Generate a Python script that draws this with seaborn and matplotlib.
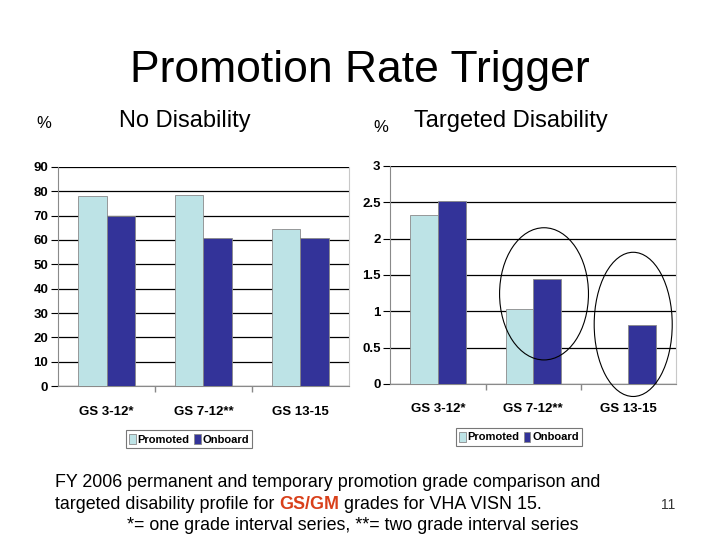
import pandas as pd
import matplotlib.pyplot as plt
import seaborn as sns
from matplotlib.patches import Ellipse

plt.switch_backend('Agg')
sns.set_theme(style="white")
plt.rcParams['font.family'] = ['Liberation Sans', 'DejaVu Sans']
plt.rcParams['text.color'] = 'black'
plt.rcParams['xtick.color'] = 'black'
plt.rcParams['ytick.color'] = 'black'

# data
grades = ['GS 3-12*', 'GS 7-12**', 'GS 13-15']
series = ['Promoted', 'Onboard']
no_dis_promoted = [78, 78.5, 64.5]
no_dis_onboard = [70, 61, 61]
tgt_dis_promoted = [2.33, 1.03, 0]
tgt_dis_onboard = [2.52, 1.44, 0.81]
no_dis_ticks = [0, 10, 20, 30, 40, 50, 60, 70, 80, 90]
tgt_dis_ticks = [0, 0.5, 1, 1.5, 2, 2.5, 3]
tgt_dis_ticklabels = ['0', '0.5', '1', '1.5', '2', '2.5', '3']

palette = {'Promoted': '#BDE3E6', 'Onboard': '#333399'}
narrow = ['Liberation Sans Narrow', 'Liberation Sans', 'DejaVu Sans']


def long_table(promoted, onboard):
    return pd.DataFrame({
        'grade': grades * 2,
        'series': [series[0]] * 3 + [series[1]] * 3,
        'value': promoted + onboard,
    })


def draw_panel(ax, df, ticks, ticklabels, ymax, legend_y):
    sns.barplot(data=df, x='grade', y='value', hue='series', order=grades,
                hue_order=series, palette=palette, width=0.58, saturation=1,
                edgecolor='#8a8a8a', linewidth=0.6, ax=ax, zorder=3)
    ax.set_ylim(0, ymax)
    ax.set_xlim(-0.5, 2.5)
    ax.set_yticks(ticks)
    ax.set_yticklabels(ticklabels, fontsize=9.5, fontweight='bold', family=narrow)
    ax.set_xticks([0, 1, 2])
    ax.set_xticklabels(grades, fontsize=9.5, fontweight='bold', family=narrow)
    ax.tick_params(axis='x', length=0, pad=14)
    ax.tick_params(axis='y', length=5, width=0.8, color='black', left=True, pad=2)
    # small ticks between the categories
    ax.set_xticks([0.5, 1.5], minor=True)
    ax.tick_params(axis='x', which='minor', length=4, color='#888888', bottom=True)
    ax.set_xlabel('')
    ax.set_ylabel('')
    ax.grid(axis='y', color='black', linewidth=0.9, zorder=0)
    ax.set_axisbelow(True)
    ax.spines['top'].set_visible(False)
    ax.spines['left'].set_color('#8a8a8a')
    ax.spines['bottom'].set_color('#8a8a8a')
    ax.spines['right'].set_color('#c8c8c8')
    for sp in ax.spines.values():
        sp.set_linewidth(0.8)
    leg = ax.legend(loc='center', bbox_to_anchor=(0.45, legend_y), ncol=2,
                    frameon=True, fancybox=False, handlelength=0.6,
                    handleheight=1.0, handletextpad=0.15, columnspacing=0.4,
                    borderpad=0.3, borderaxespad=0,
                    prop={'family': narrow, 'weight': 'bold', 'size': 8})
    leg.get_frame().set_edgecolor('#555555')
    leg.get_frame().set_linewidth(0.8)


fig = plt.figure(figsize=(7.2, 5.4), dpi=100)
ax1 = fig.add_axes([0.0806, 0.285, 0.404, 0.406])
ax2 = fig.add_axes([0.542, 0.289, 0.397, 0.404])

draw_panel(ax1, long_table(no_dis_promoted, no_dis_onboard),
           no_dis_ticks, [str(t) for t in no_dis_ticks], 90, -0.242)
draw_panel(ax2, long_table(tgt_dis_promoted, tgt_dis_onboard),
           tgt_dis_ticks, tgt_dis_ticklabels, 3, -0.243)

# hand-drawn circles around the targeted disability groups
for cx, cy, w, h in [(0.538, 0.413, 0.311, 0.606), (0.850, 0.273, 0.273, 0.661)]:
    ax2.add_patch(Ellipse((cx, cy), w, h, transform=ax2.transAxes, fill=False,
                          edgecolor='black', linewidth=0.8, clip_on=False, zorder=5))

# titles
fig.text(0.5, 0.870, 'Promotion Rate Trigger', ha='center', va='center', fontsize=32)
fig.text(0.061, 0.772, '%', ha='center', va='center', fontsize=12)
fig.text(0.257, 0.776, 'No Disability', ha='center', va='center', fontsize=17)
fig.text(0.529, 0.763, '%', ha='center', va='center', fontsize=12)
fig.text(0.710, 0.776, 'Targeted Disability', ha='center', va='center', fontsize=17)

# footnote with the coloured GS/GM
fs = 12.9
fig.text(0.076, 0.106, 'FY 2006 permanent and temporary promotion grade comparison and',
         ha='left', va='center', fontsize=fs)
t1 = fig.text(0.076, 0.065, 'targeted disability profile for ', ha='left',
              va='center', fontsize=fs)
t2 = plt.annotate('GS/GM', xy=(1, 0), xycoords=t1, ha='left', va='bottom',
                  fontsize=fs, fontweight='bold', color='#D9401A')
plt.annotate(' grades for VHA VISN 15.', xy=(1, 0), xycoords=t2, ha='left',
             va='bottom', fontsize=fs)
fig.text(0.176, 0.027, '*= one grade interval series, **= two grade interval series',
         ha='left', va='center', fontsize=fs)
fig.text(0.928, 0.065, '11', ha='center', va='center', fontsize=10, color='#333333')

fig.savefig('out.png', dpi=100)
